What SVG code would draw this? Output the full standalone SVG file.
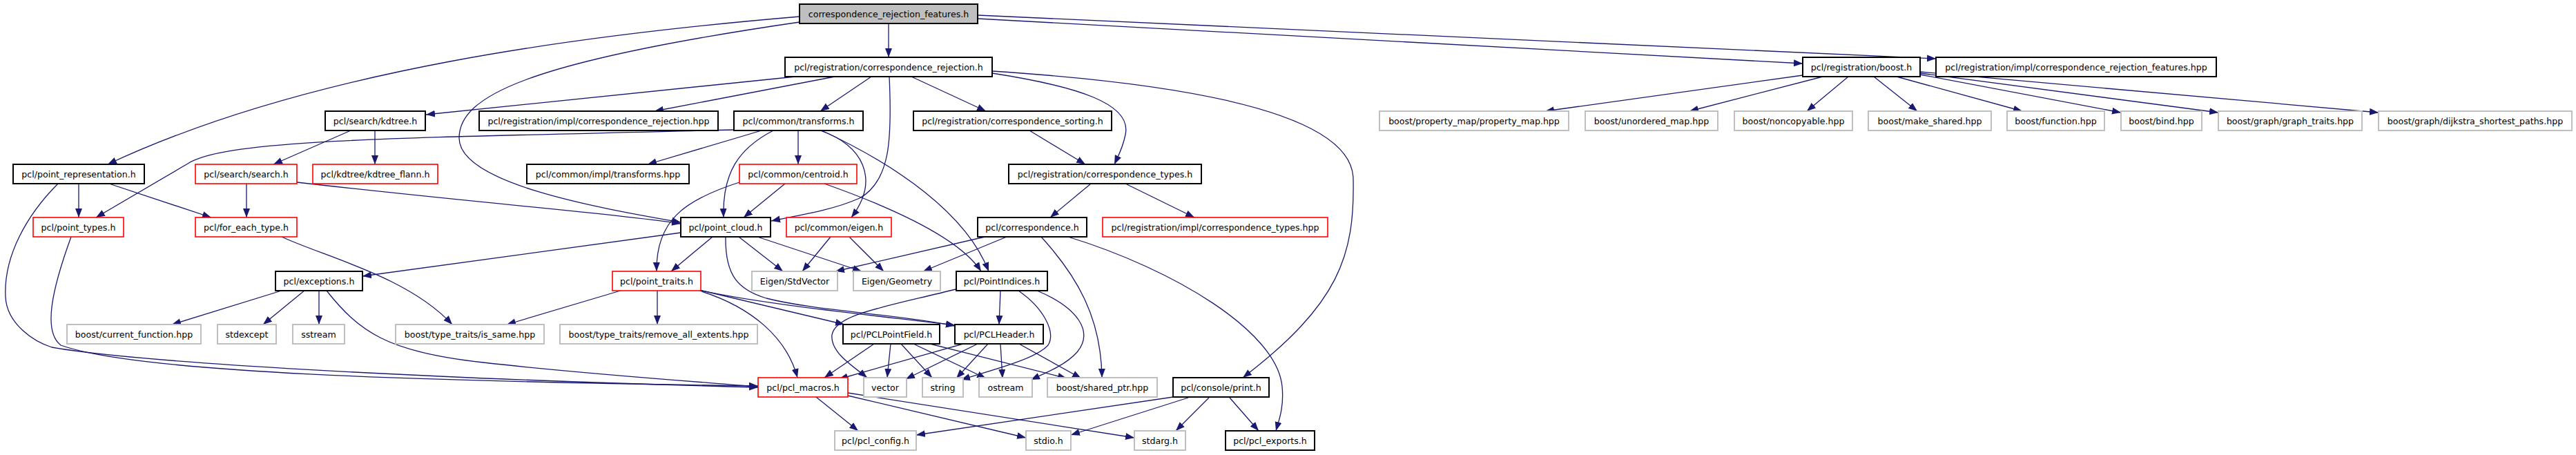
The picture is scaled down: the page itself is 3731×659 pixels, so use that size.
<svg xmlns="http://www.w3.org/2000/svg" width="3731" height="659" viewBox="0 0 3731 659">
<defs>
<marker id="ah" markerUnits="userSpaceOnUse" markerWidth="14" markerHeight="11" refX="13" refY="5" orient="auto" viewBox="0 0 14 10">
<path d="M0,0 L13,5 L0,10 z" fill="#191970"/>
</marker>
<style>
.node rect{fill:#ffffff;stroke:#000000;stroke-width:2}
.node.root rect{fill:#bfbfbf}
.node.red rect{stroke:#ff0000;stroke-width:1.6}
.node.gray rect{stroke:#bfbfbf;stroke-width:2}
.node text{font-family:"DejaVu Sans",sans-serif;font-size:12.6px;fill:#000000;text-anchor:middle}
#edges path{fill:none;stroke:#191970;stroke-width:1.3;marker-end:url(#ah)}
</style>
</defs>
<rect x="0" y="0" width="3731" height="659" fill="#ffffff"/>
<g id="edges">
<path d="M1287,34 L1287,83"/>
<path d="M1158,24 C850,50 450,100 156,238"/>
<path d="M1158,32 C760,90 665,140 665,200 C665,265 860,300 986,322"/>
<path d="M1416,27 L2611,92"/>
<path d="M1416,22 L2804,85"/>
<path d="M1152,111 L617,166"/>
<path d="M1209,111 L948,161"/>
<path d="M1262,111 L1188,161"/>
<path d="M1288,111 C1292,200 1290,262 1245,287 C1205,305 1150,313 1117,320"/>
<path d="M1320,111 L1428,161"/>
<path d="M1437,106 C1560,125 1640,150 1630,195 C1626,215 1620,225 1614,238"/>
<path d="M1437,103 C1700,120 1960,160 1960,260 C1962,370 1940,440 1800,547"/>
<path d="M1063,188 C600,200 330,200 272,237 L139,315"/>
<path d="M508,189 L396,238"/>
<path d="M543,189 L543,238"/>
<path d="M357,266 L357,315"/>
<path d="M430,264 C700,295 900,310 986,324"/>
<path d="M114,266 L114,315"/>
<path d="M158,266 L306,315"/>
<path d="M84,266 C40,310 5,370 8,430 C10,470 50,495 75,503 C200,525 600,548 1098,561"/>
<path d="M103,343 C75,420 62,480 88,500 C200,540 600,552 1098,559"/>
<path d="M408,343 C470,372 590,400 655,470"/>
<path d="M1103,189 L938,238"/>
<path d="M1156,189 L1156,238"/>
<path d="M1120,189 C1070,215 1046,250 1048,315"/>
<path d="M1188,189 C1250,210 1275,260 1233,315"/>
<path d="M1190,189 C1300,240 1400,310 1432,393"/>
<path d="M1194,266 C1290,300 1390,345 1421,393"/>
<path d="M1137,266 L1077,315"/>
<path d="M1071,264 C990,290 950,320 951,393"/>
<path d="M1491,189 L1572,238"/>
<path d="M1580,266 L1521,315"/>
<path d="M1630,266 L1730,315"/>
<path d="M1431,342 L1210,393"/>
<path d="M1458,343 L1337,393"/>
<path d="M1508,343 C1560,400 1595,460 1596,547"/>
<path d="M1547,343 C1700,390 1850,480 1857,560 C1860,590 1852,610 1848,624"/>
<path d="M986,337 L525,400"/>
<path d="M1032,343 L972,393"/>
<path d="M1070,343 L1134,393"/>
<path d="M1097,343 L1248,393"/>
<path d="M1051,343 C1050,400 1070,420 1110,432 C1180,450 1300,455 1383,472"/>
<path d="M1013,420 L1223,470"/>
<path d="M1012,420 C1100,440 1250,455 1383,471"/>
<path d="M902,420 L734,470"/>
<path d="M952,420 L952,470"/>
<path d="M1013,421 C1090,445 1140,490 1155,547"/>
<path d="M1203,343 L1162,393"/>
<path d="M1230,343 L1280,393"/>
<path d="M411,420 L249,470"/>
<path d="M442,420 L381,470"/>
<path d="M462,420 L462,470"/>
<path d="M473,421 C520,480 560,510 700,525 C850,542 1000,552 1098,560"/>
<path d="M1384,419 C1280,445 1210,455 1205,485 C1202,510 1235,530 1256,547"/>
<path d="M1449,421 L1447,470"/>
<path d="M1475,421 C1510,445 1530,480 1518,500 C1500,520 1440,535 1392,550"/>
<path d="M1502,421 C1560,445 1585,480 1560,510 C1545,527 1520,538 1493,550"/>
<path d="M1266,498 L1194,547"/>
<path d="M1290,498 L1285,547"/>
<path d="M1305,498 L1350,547"/>
<path d="M1323,498 L1428,548"/>
<path d="M1347,498 L1545,548"/>
<path d="M1395,498 L1215,549"/>
<path d="M1416,498 L1312,549"/>
<path d="M1431,498 L1385,548"/>
<path d="M1449,498 L1452,548"/>
<path d="M1476,498 L1566,548"/>
<path d="M1182,575 L1243,624"/>
<path d="M1228,573 L1486,634"/>
<path d="M1228,569 L1643,634"/>
<path d="M1699,575 L1327,630"/>
<path d="M1721,576 L1551,630"/>
<path d="M1751,576 L1703,624"/>
<path d="M1781,576 L1823,624"/>
<path d="M2611,109 L2238,161"/>
<path d="M2640,111 L2447,161"/>
<path d="M2677,111 L2617,161"/>
<path d="M2714,111 L2777,161"/>
<path d="M2747,111 L2929,161"/>
<path d="M2781,108 L3072,163"/>
<path d="M2781,106 L3213,163"/>
<path d="M2781,104 L3445,163"/>
</g>
<g id="n_root" class="node root"><rect x="1158" y="6" width="258" height="28"/><text x="1287" y="24.5">correspondence_rejection_features.h</text></g>
<g id="n_cr" class="node"><rect x="1137" y="83" width="300" height="28"/><text x="1287" y="101.5">pcl/registration/correspondence_rejection.h</text></g>
<g id="n_boost" class="node"><rect x="2611" y="83" width="170" height="28"/><text x="2696" y="101.5">pcl/registration/boost.h</text></g>
<g id="n_crfhpp" class="node"><rect x="2804" y="83" width="406" height="28"/><text x="3007" y="101.5">pcl/registration/impl/correspondence_rejection_features.hpp</text></g>
<g id="n_kdtree" class="node"><rect x="471" y="161" width="145" height="28"/><text x="543.5" y="179.5">pcl/search/kdtree.h</text></g>
<g id="n_crhpp" class="node"><rect x="694" y="161" width="346" height="28"/><text x="867" y="179.5">pcl/registration/impl/correspondence_rejection.hpp</text></g>
<g id="n_transforms" class="node"><rect x="1063" y="161" width="187" height="28"/><text x="1156.5" y="179.5">pcl/common/transforms.h</text></g>
<g id="n_sorting" class="node"><rect x="1323" y="161" width="287" height="28"/><text x="1466.5" y="179.5">pcl/registration/correspondence_sorting.h</text></g>
<g id="n_pmap" class="node gray"><rect x="1998" y="161" width="274" height="28"/><text x="2135" y="179.5">boost/property_map/property_map.hpp</text></g>
<g id="n_umap" class="node gray"><rect x="2296" y="161" width="192" height="28"/><text x="2392" y="179.5">boost/unordered_map.hpp</text></g>
<g id="n_noncopy" class="node gray"><rect x="2512" y="161" width="171" height="28"/><text x="2597.5" y="179.5">boost/noncopyable.hpp</text></g>
<g id="n_makeshared" class="node gray"><rect x="2706" y="161" width="178" height="28"/><text x="2795" y="179.5">boost/make_shared.hpp</text></g>
<g id="n_function" class="node gray"><rect x="2907" y="161" width="141" height="28"/><text x="2977.5" y="179.5">boost/function.hpp</text></g>
<g id="n_bind" class="node gray"><rect x="3072" y="161" width="117" height="28"/><text x="3130.5" y="179.5">boost/bind.hpp</text></g>
<g id="n_gtraits" class="node gray"><rect x="3213" y="161" width="208" height="28"/><text x="3317" y="179.5">boost/graph/graph_traits.hpp</text></g>
<g id="n_dijkstra" class="node gray"><rect x="3445" y="161" width="280" height="28"/><text x="3585" y="179.5">boost/graph/dijkstra_shortest_paths.hpp</text></g>
<g id="n_ptrep" class="node"><rect x="19" y="238" width="190" height="28"/><text x="114" y="256.5">pcl/point_representation.h</text></g>
<g id="n_search" class="node red"><rect x="283" y="238" width="147" height="28"/><text x="356.5" y="256.5">pcl/search/search.h</text></g>
<g id="n_flann" class="node red"><rect x="453" y="238" width="181" height="28"/><text x="543.5" y="256.5">pcl/kdtree/kdtree_flann.h</text></g>
<g id="n_trhpp" class="node"><rect x="763" y="238" width="235" height="28"/><text x="880.5" y="256.5">pcl/common/impl/transforms.hpp</text></g>
<g id="n_centroid" class="node red"><rect x="1071" y="238" width="170" height="28"/><text x="1156" y="256.5">pcl/common/centroid.h</text></g>
<g id="n_ctypes" class="node"><rect x="1461" y="238" width="279" height="28"/><text x="1600.5" y="256.5">pcl/registration/correspondence_types.h</text></g>
<g id="n_ptypes" class="node red"><rect x="48" y="315" width="131" height="28"/><text x="113.5" y="333.5">pcl/point_types.h</text></g>
<g id="n_foreach" class="node red"><rect x="283" y="315" width="147" height="28"/><text x="356.5" y="333.5">pcl/for_each_type.h</text></g>
<g id="n_pcloud" class="node"><rect x="986" y="315" width="130" height="28"/><text x="1051" y="333.5">pcl/point_cloud.h</text></g>
<g id="n_eigen" class="node red"><rect x="1139" y="315" width="152" height="28"/><text x="1215" y="333.5">pcl/common/eigen.h</text></g>
<g id="n_corr" class="node"><rect x="1416" y="315" width="158" height="28"/><text x="1495" y="333.5">pcl/correspondence.h</text></g>
<g id="n_cthpp" class="node red"><rect x="1597" y="315" width="326" height="28"/><text x="1760" y="333.5">pcl/registration/impl/correspondence_types.hpp</text></g>
<g id="n_exc" class="node"><rect x="399" y="393" width="126" height="28"/><text x="462" y="411.5">pcl/exceptions.h</text></g>
<g id="n_ptraits" class="node red"><rect x="887" y="393" width="128" height="28"/><text x="951" y="411.5">pcl/point_traits.h</text></g>
<g id="n_stdvec" class="node gray"><rect x="1089" y="393" width="124" height="28"/><text x="1151" y="411.5">Eigen/StdVector</text></g>
<g id="n_geom" class="node gray"><rect x="1236" y="393" width="126" height="28"/><text x="1299" y="411.5">Eigen/Geometry</text></g>
<g id="n_pind" class="node"><rect x="1385" y="393" width="132" height="28"/><text x="1451" y="411.5">pcl/PointIndices.h</text></g>
<g id="n_curfn" class="node gray"><rect x="97" y="470" width="194" height="28"/><text x="194" y="488.5">boost/current_function.hpp</text></g>
<g id="n_stdexc" class="node gray"><rect x="315" y="470" width="85" height="28"/><text x="357.5" y="488.5">stdexcept</text></g>
<g id="n_sstream" class="node gray"><rect x="424" y="470" width="75" height="28"/><text x="461.5" y="488.5">sstream</text></g>
<g id="n_issame" class="node gray"><rect x="573" y="470" width="215" height="28"/><text x="680.5" y="488.5">boost/type_traits/is_same.hpp</text></g>
<g id="n_remext" class="node gray"><rect x="811" y="470" width="286" height="28"/><text x="954" y="488.5">boost/type_traits/remove_all_extents.hpp</text></g>
<g id="n_ptfield" class="node"><rect x="1221" y="470" width="140" height="28"/><text x="1291" y="488.5">pcl/PCLPointField.h</text></g>
<g id="n_header" class="node"><rect x="1383" y="470" width="128" height="28"/><text x="1447" y="488.5">pcl/PCLHeader.h</text></g>
<g id="n_macros" class="node red"><rect x="1098" y="547" width="130" height="28"/><text x="1163" y="565.5">pcl/pcl_macros.h</text></g>
<g id="n_vector" class="node gray"><rect x="1251" y="547" width="62" height="28"/><text x="1282" y="565.5">vector</text></g>
<g id="n_string" class="node gray"><rect x="1336" y="547" width="59" height="28"/><text x="1365.5" y="565.5">string</text></g>
<g id="n_ostream" class="node gray"><rect x="1418" y="547" width="77" height="28"/><text x="1456.5" y="565.5">ostream</text></g>
<g id="n_sptr" class="node gray"><rect x="1517" y="547" width="159" height="28"/><text x="1596.5" y="565.5">boost/shared_ptr.hpp</text></g>
<g id="n_print" class="node"><rect x="1699" y="547" width="139" height="28"/><text x="1768.5" y="565.5">pcl/console/print.h</text></g>
<g id="n_config" class="node gray"><rect x="1209" y="624" width="118" height="28"/><text x="1268" y="642.5">pcl/pcl_config.h</text></g>
<g id="n_stdio" class="node gray"><rect x="1486" y="624" width="65" height="28"/><text x="1518.5" y="642.5">stdio.h</text></g>
<g id="n_stdarg" class="node gray"><rect x="1643" y="624" width="74" height="28"/><text x="1680" y="642.5">stdarg.h</text></g>
<g id="n_exports" class="node"><rect x="1775" y="624" width="129" height="28"/><text x="1839.5" y="642.5">pcl/pcl_exports.h</text></g>
</svg>
